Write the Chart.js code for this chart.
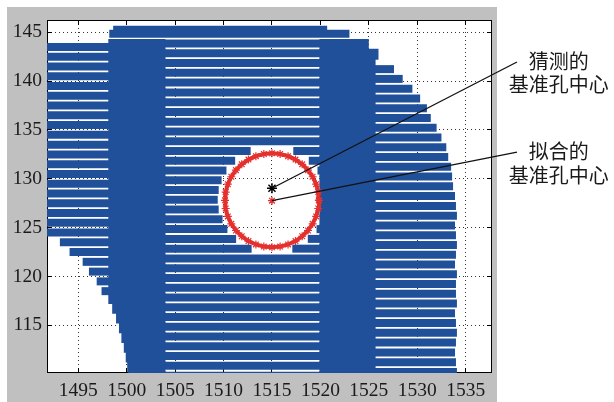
<!DOCTYPE html>
<html>
<head>
<meta charset="utf-8">
<title>基准孔中心拟合</title>
<script src="https://cdn.jsdelivr.net/npm/chart.js@4.4.1/dist/chart.umd.min.js"></script>
<style>
  html, body { margin: 0; padding: 0; background: #fff; }
  #chart { display: block; }
</style>
</head>
<body>
<canvas id="chart" width="614" height="402"></canvas>
<script>
// axis ranges and tick labels
const xRange = [1491.77, 1537.72];
const yRange = [110.12, 146.26];
const xTicks = [1495, 1500, 1505, 1510, 1515, 1520, 1525, 1530, 1535];
const yTicks = [115, 120, 125, 130, 135, 140, 145];

// left block of scan rows (gaps on whole numbers)
const leftRowY = [143.5, 142.5, 141.5, 140.5, 139.5, 138.5, 137.5, 136.5, 135.5, 134.5,
                  133.5, 132.5, 131.5, 130.5, 129.5, 128.5, 127.5, 126.5, 125.5, 124.5,
                  123.5, 122.5, 121.5, 120.5, 119.5, 118.5];
const leftRowStart = [1491, 1491, 1491, 1491, 1491, 1491, 1491, 1491, 1491, 1491,
                      1491, 1491, 1491, 1491, 1491, 1491, 1491, 1491, 1491, 1491,
                      1493.1, 1494.1, 1495.45, 1496.1, 1496.9, 1497.4];
const leftRowEnd = 1498.2;

// middle block of scan rows, incl. the top row
const midRowY = [145.25, 144.85, 143.85, 142.85, 141.85, 140.85, 139.85, 138.85, 137.85, 136.85,
                 135.85, 134.85, 133.85, 132.85, 131.85, 130.85, 129.85, 128.85, 127.85, 126.85,
                 125.85, 124.85, 123.85, 122.85, 121.85, 120.85, 119.85, 118.85, 117.85, 116.85,
                 115.85, 114.85, 113.85, 112.85, 111.85, 110.85, 109.85];
const midRowStart = [1498.6, 1498.2, 1503.9, 1503.9, 1503.9, 1503.9, 1503.9, 1503.9, 1503.9, 1503.9,
                     1503.9, 1503.9, 1503.9, 1503.9, 1503.9, 1503.9, 1503.9, 1503.9, 1503.9, 1503.9,
                     1503.9, 1503.9, 1503.9, 1503.9, 1503.9, 1503.9, 1503.9, 1503.9, 1503.9, 1503.9,
                     1503.9, 1503.9, 1503.9, 1503.9, 1503.9, 1503.9, 1503.9];
const midRowEnd = [1520.7, 1523.0, 1520.1, 1520.1, 1520.1, 1520.1, 1520.1, 1520.1, 1520.1, 1520.1,
                   1520.1, 1520.1, 1520.1, 1520.1, 1520.1, 1520.1, 1520.1, 1520.1, 1520.1, 1520.1,
                   1520.1, 1520.1, 1520.1, 1520.1, 1520.1, 1520.1, 1520.1, 1520.1, 1520.1, 1520.1,
                   1520.1, 1520.1, 1520.1, 1520.1, 1520.1, 1520.1, 1520.1];

// where the rows are cut by the hole
const holeRowY = [132.85, 131.85, 130.85, 129.85, 128.85, 127.85, 126.85, 125.85, 124.85, 123.85, 122.85];
const holeLeft = [1512.8, 1511.2, 1510.3, 1509.8, 1509.5, 1509.4, 1509.5, 1509.9, 1510.4, 1511.3, 1512.9];
const holeRight = [1517.2, 1518.8, 1519.7, 1520.2, 1520.4, 1520.4, 1520.4, 1520.2, 1519.6, 1518.7, 1517.1];

// two dense (gap-free) vertical bands
const bandRowY = [143.75, 142.75, 141.75, 140.75, 139.75, 138.75, 137.75, 136.75, 135.75, 134.75,
                  133.75, 132.75, 131.75, 130.75, 129.75, 128.75, 127.75, 126.75, 125.75, 124.75,
                  123.75, 122.75, 121.75, 120.75, 119.75, 118.75, 117.75, 116.75, 115.75, 114.75,
                  113.75, 112.75, 111.75, 110.75, 109.75];
const bandAStart = [1498.1, 1498.1, 1498.1, 1498.1, 1498.1, 1498.1, 1498.1, 1498.1, 1498.1, 1498.1,
                    1498.1, 1498.1, 1498.1, 1498.1, 1498.1, 1498.1, 1498.1, 1498.1, 1498.1, 1498.1,
                    1498.1, 1498.1, 1498.1, 1498.1, 1498.1, 1498.1, 1498.1, 1498.5, 1498.9, 1499.2,
                    1499.45, 1499.7, 1499.9, 1500.05, 1500.15];
const bandAEnd = 1504.0;
const bandBStart = 1519.9;
const bandBEnd = [1525.0, 1526.0, 1525.7, 1525.7, 1525.7, 1525.7, 1525.7, 1525.7, 1525.7, 1525.7,
                  1525.7, 1525.7, 1525.7, 1525.7, 1525.7, 1525.7, 1525.7, 1525.7, 1525.7, 1525.7,
                  1525.7, 1525.7, 1525.7, 1525.7, 1525.7, 1525.7, 1525.7, 1525.7, 1525.7, 1525.7,
                  1525.7, 1525.7, 1525.7, 1525.7, 1525.7];

// right block of scan rows
const rightRowY = [141.23, 140.23, 139.23, 138.23, 137.23, 136.23, 135.23, 134.23, 133.23, 132.23,
                   131.23, 130.23, 129.23, 128.23, 127.23, 126.23, 125.23, 124.23, 123.23, 122.23,
                   121.23, 120.23, 119.23, 118.23, 117.23, 116.23, 115.23, 114.23, 113.23, 112.23,
                   111.23, 110.23];
const rightRowStart = 1525.5;
const rightRowEnd = [1527.6, 1528.5, 1529.5, 1530.3, 1531.0, 1531.4, 1532.0, 1532.5, 1533.0, 1533.2,
                     1533.5, 1533.6, 1533.7, 1533.9, 1534.0, 1534.1, 1533.9, 1534.0, 1534.1, 1534.0,
                     1533.9, 1534.1, 1534.0, 1534.0, 1534.1, 1533.9, 1534.0, 1534.1, 1534.0, 1533.9,
                     1534.0, 1534.1];

// fitted hole edge points
const ringX = [1519.85, 1519.78, 1519.56, 1519.20, 1518.72, 1518.12, 1517.43, 1516.66, 1515.84,
               1515.00, 1514.16, 1513.34, 1512.57, 1511.88, 1511.28, 1510.80, 1510.44, 1510.22,
               1510.15, 1510.22, 1510.44, 1510.80, 1511.28, 1511.88, 1512.57, 1513.34, 1514.16,
               1515.00, 1515.84, 1516.66, 1517.43, 1518.12, 1518.72, 1519.20, 1519.56, 1519.78, 1519.85];
const ringY = [127.80, 128.64, 129.45, 130.21, 130.89, 131.48, 131.97, 132.32, 132.54,
               132.61, 132.54, 132.32, 131.97, 131.48, 130.89, 130.21, 129.45, 128.64,
               127.80, 126.96, 126.15, 125.39, 124.71, 124.12, 123.63, 123.28, 123.06,
               122.99, 123.06, 123.28, 123.63, 124.12, 124.71, 125.39, 126.15, 126.96, 127.80];

// centres: guessed and fitted
const guessCenter = { x: 1515.0, y: 129.03 };
const fitCenter = { x: 1515.0, y: 127.76 };

// callouts
const noteText = [['猜测的', '基准孔中心'], ['拟合的', '基准孔中心']];
const noteX = [1544.6, 1544.6];
const noteY = [[142.0, 139.7], [132.85, 130.3]];
const leaderEnd = [{ x: 1540.3, y: 141.96 }, { x: 1540.3, y: 132.74 }];

const BLUE = '#21509a';
const RED = '#e4302e';

const at = (v, i) => Array.isArray(v) ? v[i] : v;
function rows(ys, starts, ends) {
    return ys.map((y, i) => ({ y: y, x: [at(starts, i), at(ends, i)] }));
}

function midRows() {
    const out = [];
    midRowY.forEach((y, i) => {
        const h = holeRowY.indexOf(y);
        if (h < 0) {
            out.push({ y: y, x: [midRowStart[i], midRowEnd[i]] });
            return;
        }
        out.push({ y: y, x: [midRowStart[i], holeLeft[h]] });
        if (holeRight[h] < midRowEnd[i]) out.push({ y: y, x: [holeRight[h], midRowEnd[i]] });
    });
    return out;
}

function rowSet(data, thickness) {
    return {
        type: 'bar',
        indexAxis: 'y',
        data: data,
        backgroundColor: BLUE,
        borderWidth: 0,
        barThickness: thickness,
        grouped: false,
        inflateAmount: 0
    };
}

function leader(from, to) {
    return {
        type: 'line',
        indexAxis: 'x',
        data: [from, to],
        borderColor: '#111',
        borderWidth: 1.3,
        pointRadius: 0,
        tension: 0,
        clip: false
    };
}

// box, inward ticks, grey surround and the callout texts
const framePlugin = {
    id: 'frame',
    beforeDraw(chart) {
        const { ctx, chartArea: a } = chart;
        ctx.save();
        ctx.fillStyle = '#fff';
        ctx.fillRect(0, 0, chart.width, chart.height);
        ctx.fillStyle = '#c0c0c0';
        ctx.fillRect(a.left - 40, a.top - 13, a.right - a.left + 45, chart.height - a.top + 13);
        ctx.fillStyle = '#fff';
        ctx.fillRect(a.left, a.top, a.right - a.left, a.bottom - a.top);
        ctx.restore();
    },
    beforeDatasetsDraw(chart) {
        const { ctx, chartArea: a, scales: { x, y } } = chart;
        const align = p => Math.round(p - 0.5) + 0.5;
        ctx.save();
        ctx.strokeStyle = '#000';
        ctx.lineWidth = 1;
        ctx.beginPath();
        x.ticks.forEach(t => {
            const p = align(x.getPixelForValue(t.value));
            ctx.moveTo(p, a.bottom); ctx.lineTo(p, a.bottom - 5);
            ctx.moveTo(p, a.top); ctx.lineTo(p, a.top + 5);
        });
        y.ticks.forEach(t => {
            const p = align(y.getPixelForValue(t.value));
            ctx.moveTo(a.left, p); ctx.lineTo(a.left + 5, p);
            ctx.moveTo(a.right, p); ctx.lineTo(a.right - 5, p);
        });
        ctx.stroke();
        ctx.strokeRect(a.left + 0.5, a.top + 0.5, a.right - a.left - 1, a.bottom - a.top - 1);
        ctx.restore();
    },
    afterDatasetsDraw(chart) {
        const { ctx, scales: { x, y } } = chart;
        ctx.save();
        ctx.fillStyle = '#1a1a1a';
        ctx.font = '20px "Noto Sans CJK SC"';
        ctx.textAlign = 'center';
        ctx.textBaseline = 'middle';
        noteText.forEach((lines, i) => {
            lines.forEach((s, j) => {
                ctx.fillText(s, x.getPixelForValue(noteX[i]), y.getPixelForValue(noteY[i][j]));
            });
        });
        ctx.restore();
    }
};

const tickFont = { family: "'Liberation Serif', serif", size: 19.5 };

new Chart(document.getElementById('chart'), {
    type: 'bar',
    data: {
        datasets: [
            leader(guessCenter, leaderEnd[0]),
            leader(fitCenter, leaderEnd[1]),
            {
                type: 'scatter',
                data: [guessCenter],
                pointStyle: 'star',
                pointRadius: 5,
                pointBorderColor: '#000',
                pointBorderWidth: 1.5,
                showLine: false
            },
            {
                type: 'scatter',
                data: [fitCenter],
                pointStyle: 'star',
                pointRadius: 4,
                pointBorderColor: RED,
                pointBorderWidth: 1.3,
                showLine: false
            },
            {
                type: 'line',
                indexAxis: 'x',
                data: ringX.map((x, i) => ({ x: x, y: ringY[i] })),
                borderColor: RED,
                borderWidth: 4,
                tension: 0,
                pointStyle: 'star',
                pointRadius: 4,
                pointBorderColor: RED,
                pointBorderWidth: 1.2
            },
            rowSet(rows(leftRowY, leftRowStart, leftRowEnd), 8),
            rowSet(midRows(), 8),
            rowSet(rows(rightRowY, rightRowStart, rightRowEnd), 8),
            rowSet(rows(bandRowY, bandAStart, bandAEnd), 11),
            rowSet(rows(bandRowY, bandBStart, bandBEnd), 11)
        ]
    },
    options: {
        responsive: false,
        devicePixelRatio: 1,
        animation: false,
        events: [],
        indexAxis: 'y',
        layout: { padding: { left: 0, right: 122, top: 20, bottom: 0 } },
        plugins: {
            legend: { display: false },
            tooltip: { enabled: false }
        },
        scales: {
            x: {
                type: 'linear',
                position: 'bottom',
                min: xRange[0],
                max: xRange[1],
                offset: false,
                afterBuildTicks: s => { s.ticks = xTicks.map(v => ({ value: v })); },
                afterFit: s => { s.height = 29; },
                grid: { color: 'rgba(0,0,0,0.8)', lineWidth: 1, drawTicks: false, offset: false },
                border: { display: false, dash: [1, 3] },
                ticks: {
                    font: tickFont, color: '#1a1a1a', padding: 6,
                    maxRotation: 0, minRotation: 0, autoSkip: false,
                    callback: v => String(v)
                }
            },
            y: {
                type: 'linear',
                position: 'left',
                min: yRange[0],
                max: yRange[1],
                offset: false,
                afterBuildTicks: s => { s.ticks = yTicks.map(v => ({ value: v })); },
                afterFit: s => { s.width = 47; },
                grid: { color: 'rgba(0,0,0,0.8)', lineWidth: 1, drawTicks: false, offset: false },
                border: { display: false, dash: [1, 3] },
                ticks: {
                    font: tickFont, color: '#1a1a1a', padding: 5,
                    autoSkip: false,
                    callback: v => String(v)
                }
            }
        }
    },
    plugins: [framePlugin]
});
</script>
</body>
</html>
